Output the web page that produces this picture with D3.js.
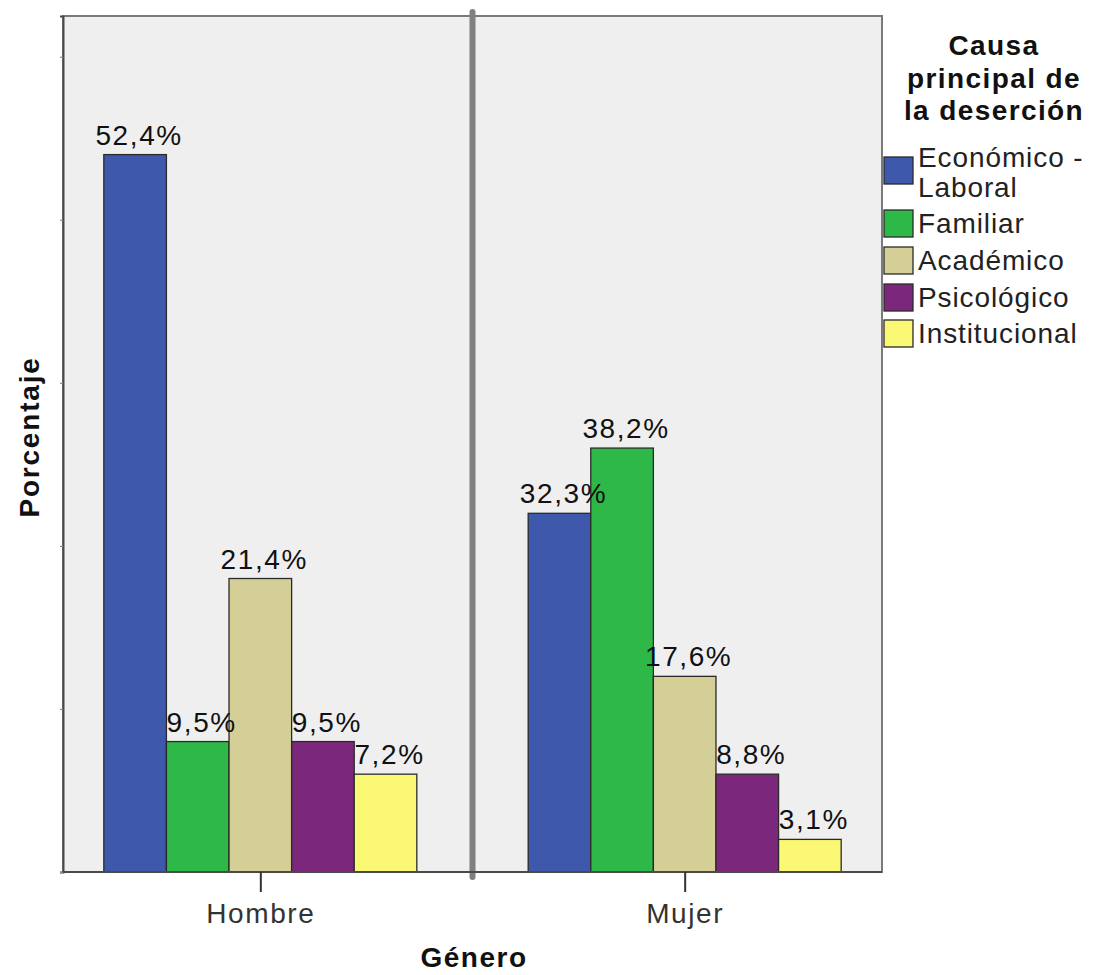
<!DOCTYPE html>
<html>
<head>
<meta charset="utf-8">
<script src="https://cdn.jsdelivr.net/npm/d3@7"></script>
<style>
  html, body { margin: 0; padding: 0; background: #fff; }
  text { font-family: "Liberation Sans", Arial, sans-serif; }
</style>
</head>
<body>
<svg id="chart" width="1094" height="975"></svg>
<script>
// ---- data ----
const generos = ["Hombre", "Mujer"];
const causas = ["Económico - Laboral", "Familiar", "Académico", "Psicológico", "Institucional"];
// bar heights (frequency counts, the plotted quantity)
const conteoHombre = [44, 8, 18, 8, 6];
const conteoMujer  = [22, 26, 12, 6, 2];
// percentage labels shown above bars
const pctHombre = [52.4, 9.5, 21.4, 9.5, 7.2];
const pctMujer  = [32.3, 38.2, 17.6, 8.8, 3.1];
const yTicks = [0, 10, 20, 30, 40, 50];
const colores = ["#3e58ac", "#2eb848", "#d3cf97", "#7b287c", "#fbf875"];

const conteos = { Hombre: conteoHombre, Mujer: conteoMujer };
const pcts = { Hombre: pctHombre, Mujer: pctMujer };

const svg = d3.select("#chart");
const mLeft = 63, mRight = 882, mTop = 16, mBottom = 872;

const x0 = d3.scalePoint().domain(generos).range([mLeft, mRight]).padding(0.465);
const barW = 62.6;
const x1 = d3.scaleBand().domain(causas).range([-barW * 2.5, barW * 2.5]).padding(0);
const y = d3.scaleLinear().domain([0, 52.5]).range([mBottom, mTop]);

// plot background
svg.append("rect").attr("x", mLeft).attr("y", mTop).attr("width", mRight - mLeft).attr("height", mBottom - mTop)
  .attr("fill", "#efefef").attr("stroke", "#7a7a7a").attr("stroke-width", 2);

// bars
const fmt = v => d3.format(".1f")(v).replace(".", ",") + "%";
generos.forEach(g => {
  const grp = svg.append("g").attr("transform", `translate(${x0(g)},0)`);
  grp.selectAll("rect").data(causas).join("rect")
    .attr("x", c => x1(c))
    .attr("y", (c, i) => y(conteos[g][i]))
    .attr("width", x1.bandwidth())
    .attr("height", (c, i) => y(0) - y(conteos[g][i]))
    .attr("fill", (c, i) => colores[i])
    .attr("stroke", "#2a2a2a").attr("stroke-width", 1.3);
  grp.selectAll("text").data(causas).join("text")
    .attr("x", c => x1(c) + x1.bandwidth() / 2 + 4)
    .attr("y", (c, i) => y(conteos[g][i]) - 10)
    .attr("text-anchor", "middle")
    .attr("font-size", 28)
    .attr("letter-spacing", 1.6)
    .attr("fill", "#111")
    .text((c, i) => fmt(pcts[g][i]));
});

// panel divider
const mid = (x0("Hombre") + x0("Mujer")) / 2;
svg.append("line").attr("x1", mid).attr("x2", mid).attr("y1", mTop - 4).attr("y2", mBottom + 5)
  .attr("stroke", "#808080").attr("stroke-width", 6).attr("stroke-linecap", "round");

// y axis
const yAxis = d3.axisLeft(y).tickValues(yTicks).tickSize(3).tickFormat("");
const gy = svg.append("g").attr("transform", `translate(${mLeft},0)`).call(yAxis);
gy.select(".domain").attr("stroke", "#4a4a4a").attr("stroke-width", 2);
gy.selectAll(".tick line").attr("stroke", "#8a8a8a").attr("stroke-width", 1.2);

// x axis
const xAxis = d3.axisBottom(x0).tickSize(20).tickSizeOuter(0).tickPadding(11);
const gx = svg.append("g").attr("transform", `translate(0,${mBottom})`).call(xAxis);
gx.select(".domain").attr("stroke", "#4a4a4a").attr("stroke-width", 2)
  .attr("d", `M${mLeft},0H${mRight}`);
gx.selectAll(".tick line").attr("stroke", "#333").attr("stroke-width", 2);
gx.selectAll(".tick text").attr("font-size", 28).attr("letter-spacing", 1.6).attr("fill", "#333")
  .attr("font-family", "Liberation Sans, Arial, sans-serif");

// axis titles
svg.append("text").attr("x", 474).attr("y", 967).attr("text-anchor", "middle")
  .attr("font-size", 28).attr("letter-spacing", 1.5).attr("font-weight", "bold").attr("fill", "#111").text("Género");
svg.append("text").attr("transform", "translate(39,437) rotate(-90)").attr("text-anchor", "middle")
  .attr("font-size", 28).attr("letter-spacing", 1.8).attr("font-weight", "bold").attr("fill", "#111").text("Porcentaje");

// legend
const legTitle = ["Causa", "principal de", "la deserción"];
svg.append("g").selectAll("text").data(legTitle).join("text")
  .attr("x", 994).attr("y", (d, i) => 55 + i * 32.5)
  .attr("text-anchor", "middle").attr("font-size", 28).attr("letter-spacing", 1.4)
  .attr("font-weight", "bold").attr("fill", "#111")
  .text(d => d);

const legY = [157, 210, 247, 284, 320];
const leg = svg.append("g");
causas.forEach((c, i) => {
  leg.append("rect").attr("x", 884).attr("y", legY[i]).attr("width", 29).attr("height", 27)
    .attr("fill", colores[i]).attr("stroke", "#2a2a2a").attr("stroke-width", 1.3);
});
const legLabels = [["Económico -", "Laboral"], ["Familiar"], ["Académico"], ["Psicológico"], ["Institucional"]];
legLabels.forEach((lines, i) => {
  const t = leg.append("text").attr("font-size", 28).attr("letter-spacing", 0.9).attr("fill", "#222");
  lines.forEach((l, j) => {
    t.append("tspan").attr("x", 918).attr("y", legY[i] + 23 + j * 30 + (i === 0 ? -13 : 0)).text(l);
  });
});
</script>
</body>
</html>
